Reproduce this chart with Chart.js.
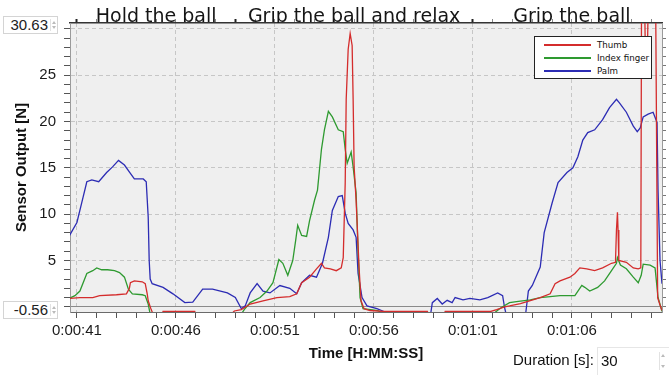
<!DOCTYPE html>
<html><head><meta charset="utf-8">
<script src="https://cdn.jsdelivr.net/npm/chart.js@4.4.1/dist/chart.umd.min.js"></script>
<style>
html,body{margin:0;padding:0;background:#fff;}
#wrap{position:relative;width:669px;height:375px;overflow:hidden;background:#fff;}
canvas{position:absolute;left:0;top:0;}
.box{position:absolute;height:16px;width:53px;border:1px solid #d4d4d4;background:#fff;font:15px "Liberation Sans",Arial,sans-serif;color:#222;line-height:16px;text-align:right;box-sizing:content-box;}
.box span.t{position:absolute;right:9px;top:0;}
.sp{position:absolute;right:1px;top:2px;width:5px;height:12px;border-left:1px solid #e2e2e2;}
.sp:before,.sp:after{content:"";position:absolute;left:1px;width:0;height:0;border-left:2px solid transparent;border-right:2px solid transparent;}
.sp:before{top:2px;border-bottom:3px solid #bbb;}
.sp:after{bottom:2px;border-top:3px solid #bbb;}
#legend{position:absolute;left:534px;top:36px;width:116px;height:41px;border:1px solid #222;background:#fff;font:8.7px "DejaVu Sans",sans-serif;color:#111;}
#legend .row{position:absolute;left:0;height:12px;width:116px;}
#legend .ln{position:absolute;left:9px;top:5px;width:47px;height:2px;}
#legend .lb{position:absolute;left:62px;top:0;line-height:12px;white-space:nowrap;}
#dur{position:absolute;left:513px;top:351px;font:15px "Liberation Sans",Arial,sans-serif;color:#111;}
#durbox{position:absolute;left:597px;top:347px;width:71px;height:27px;border:1px solid #e6e6e6;border-right:none;background:#fff;font:15px "Liberation Sans",Arial,sans-serif;color:#111;}
#durbox span{position:absolute;left:3px;top:4px;}
#durbox .sp{top:4px;height:18px;right:4px;}
</style></head><body>
<div id="wrap">
<canvas id="c" width="669" height="375"></canvas>
<div class="box" style="left:3px;top:16px;"><span class="t">30.63</span><span class="sp"></span></div>
<div class="box" style="left:3px;top:301px;"><span class="t">-0.56</span><span class="sp"></span></div>
<div id="legend"></div>
<div id="dur">Duration [s]:</div>
<div id="durbox"><span>30</span><i class="sp"></i></div>
</div>
<script>
// ---- data (time in seconds, force in N) ----
const seriesNames = ["Thumb", "Index finger", "Palm"];
const seriesColors = ["#d42c2c", "#2e9a30", "#2c2cb4"];

const thumbTimes = [40.6,41.15,41.8,42.15,43.0,43.5,43.65,43.7,43.9,44.3,44.45,44.55,44.6,44.75,44.85,45.3,45.35,46.95,47.0,48.8,48.95,49.3,49.75,50.4,51.1,51.75,52.1,52.35,52.75,53.1,53.35,53.5,53.8,54.1,54.35,54.45,54.55,54.6,54.7,54.8,54.9,54.95,55.0,55.1,55.25,55.35,55.5,55.8,56.5,58.7,58.75,59.55,59.6,61.9,62.2,62.6,62.85,63.4,64.4,64.9,65.15,65.4,65.9,66.15,66.4,66.75,67.15,67.55,68.0,68.2,68.25,68.3,68.33,68.37,68.75,69.1,69.35,69.48,69.52,69.65,69.72,69.8,69.88,70.15,70.22,70.33,70.45,70.55];
const thumbValues = [0.9,1.0,1.0,1.2,1.3,1.4,2.0,2.6,2.8,2.7,2.5,1.4,0.65,-0.3,-0.8,-0.8,-0.5,-0.5,-0.8,-0.8,-0.45,-0.3,0.3,0.65,1.0,1.1,1.4,2.6,3.2,4.1,4.7,4.2,4.1,3.9,4.2,5.3,13.4,22.4,27.8,29.5,28.2,22.4,15.1,11.5,4.2,0.65,-0.2,-0.4,-0.5,-0.5,-0.8,-0.8,-0.5,-0.5,-0.3,0.0,0.1,0.35,1.0,1.4,2.5,2.8,3.2,3.6,4.2,4.1,3.9,4.2,4.7,4.8,8.3,10.2,8.3,5.0,4.8,4.2,4.1,4.2,36,36,26,26,36,36,36,1.0,0.2,-0.4];

const indexTimes = [40.6,40.9,41.15,41.5,41.8,42.0,42.25,42.55,42.9,43.15,43.4,43.6,43.8,44.3,44.45,44.6,44.7,49.3,49.45,49.75,50.25,50.6,50.9,51.2,51.4,51.65,51.9,52.05,52.15,52.35,52.6,52.75,53.0,53.15,53.35,53.5,53.7,53.9,54.2,54.45,54.55,54.65,54.85,54.95,55.1,55.2,55.3,55.45,56.2,56.5,62.0,62.3,62.5,62.85,63.2,63.9,64.4,65.4,66.15,66.5,66.65,66.9,67.3,67.65,68.0,68.25,68.3,68.45,68.75,69.1,69.35,69.5,69.6,69.95,70.2,70.35,70.55];
const indexValues = [0.9,1.2,1.7,3.6,3.9,4.2,4.0,4.0,3.9,3.7,3.2,1.9,1.4,1.3,1.2,0.3,-0.8,-0.8,-0.3,0.45,1.0,1.7,2.6,5.1,4.7,3.4,5.0,7.2,8.8,7.7,7.6,9.3,11.5,12.6,17.0,19.1,21.1,20.5,19.1,18.9,17.0,15.5,16.7,15.1,12.3,6.1,1.0,-0.2,-0.4,-0.8,-0.8,-0.3,0.0,0.45,0.55,0.75,1.0,1.2,1.2,2.3,2.1,1.7,2.1,2.8,3.9,4.7,5.3,4.5,4.1,3.2,2.6,3.4,4.6,4.5,4.2,1.0,-0.5];

const palmTimes = [40.6,41.0,41.25,41.5,41.75,42.1,42.5,42.8,43.1,43.4,43.7,43.9,44.35,44.5,44.6,44.65,44.7,44.8,45.35,45.85,46.45,46.85,47.35,47.85,48.6,49.0,49.3,49.5,49.75,50.1,50.4,50.75,51.25,51.75,52.1,52.35,52.75,53.1,53.4,53.7,53.9,54.2,54.4,54.55,54.7,54.95,55.1,55.2,55.4,55.65,56.15,56.5,56.7,58.85,58.95,59.2,59.45,59.7,59.95,60.1,60.5,60.85,61.35,61.75,62.25,62.5,62.6,62.7,63.65,63.8,64.0,64.4,64.6,65.0,65.3,65.75,66.05,66.3,66.55,66.8,67.15,67.55,67.9,68.25,68.4,68.75,69.1,69.3,69.45,69.6,69.85,70.1,70.3,70.35,70.45,70.55];
const palmValues = [7.6,9.1,11.3,13.5,13.7,13.5,14.5,15.1,15.8,15.3,14.4,13.8,13.8,13.5,9.7,5.0,3.0,2.5,2.1,1.4,0.45,0.5,1.9,1.9,1.5,1.0,-0.2,0.1,1.5,2.5,1.7,1.5,2.3,2.0,1.4,2.6,3.4,3.2,4.7,7.5,10.4,11.9,12.0,10.1,9.0,8.3,7.5,3.6,1.0,0.1,-0.2,-0.5,-1.0,-1.0,0.45,0.9,0.3,0.7,0.45,1.0,0.75,0.9,0.75,1.0,1.5,1.2,-0.1,-1.0,-1.0,1.7,2.3,4.3,8.0,11.2,13.4,14.5,15.0,16.2,18.0,18.8,19.1,20.2,21.5,22.4,22.0,21.0,19.5,18.9,19.3,20.5,20.8,21.0,19.9,12.6,5.0,2.5];

// ---- axes ----
const xMin = 40.65, xMax = 70.55;
const yMin = -0.56, yMax = 30.63;
const xMajorTicks = [41, 46, 51, 56, 61, 66];
const xTickLabels = ["0:00:41", "0:00:46", "0:00:51", "0:00:56", "0:01:01", "0:01:06"];
const xEndTick = 70;
const xEndLabel = "0:01:10";
const yLabelValues = [5, 10, 15, 20, 25];
const yTickLabels = ["5", "10", "15", "20", "25"];
const sectionCenters = [45, 55, 66];
const sectionLabels = ["Hold the ball", "Grip the ball and relax", "Grip the ball"];
const sectionBounds = [41, 49, 61];

function pts(ts, vs) { return ts.map((t, i) => ({x: t, y: vs[i]})); }
function intRange(a, b) { const r = []; for (let v = a; v <= b; v++) r.push({value: v}); return r; }

// legend (HTML)
const lg = document.getElementById('legend');
seriesNames.forEach((n, i) => {
  const row = document.createElement('div');
  row.className = 'row'; row.style.top = (2 + i * 13) + 'px';
  row.innerHTML = '<div class="ln" style="background:' + seriesColors[i] + '"></div><div class="lb">' + n + '</div>';
  lg.appendChild(row);
});

const bgPlugin = {
  id: 'plotBg',
  beforeDraw(chart) {
    const {ctx, chartArea: a} = chart;
    ctx.save(); ctx.fillStyle = '#efefef';
    ctx.fillRect(a.left, a.top, a.right - a.left, a.bottom - a.top);
    ctx.restore();
  }
};

const tickFont = {family: '"Liberation Sans", Arial, sans-serif', size: 15};
const dashFn = c => (c.tick && c.tick.value === 0) ? [] : [4, 3];

new Chart(document.getElementById('c'), {
  type: 'line',
  data: {
    datasets: [
      {label: seriesNames[0], data: pts(thumbTimes, thumbValues), borderColor: seriesColors[0]},
      {label: seriesNames[1], data: pts(indexTimes, indexValues), borderColor: seriesColors[1]},
      {label: seriesNames[2], data: pts(palmTimes, palmValues), borderColor: seriesColors[2]}
    ]
  },
  options: {
    responsive: false, animation: false, devicePixelRatio: 1, events: [],
    layout: {padding: 0},
    elements: {point: {radius: 0}, line: {borderWidth: 1.3, tension: 0, fill: false}},
    plugins: {legend: {display: false}, tooltip: {enabled: false}},
    scales: {
      x: {
        type: 'linear', position: 'bottom', min: xMin, max: xMax, weight: 0,
        afterBuildTicks: s => { s.ticks = intRange(41, 70); },
        afterFit: s => { s.height = 63; },
        ticks: {autoSkip: false, maxRotation: 0, padding: 4, color: '#1a1a1a', font: tickFont,
          callback: v => { const i = xMajorTicks.indexOf(v); return i >= 0 ? xTickLabels[i] : ''; }},
        grid: {color: c => (c.tick && xMajorTicks.includes(c.tick.value)) ? '#c6c6c6' : 'rgba(0,0,0,0)',
          tickColor: '#555', tickLength: 6, lineWidth: 1},
        border: {display: true, color: '#6a6a6a', width: 1, dash: [4, 3]},
        title: {display: true, text: 'Time [H:MM:SS]', color: '#111',
          font: {family: '"Liberation Sans", Arial, sans-serif', size: 15, weight: 'bold'},
          padding: {top: 0, bottom: 12}}
      },
      xEnd: {
        type: 'linear', position: 'bottom', min: xMin, max: xMax, weight: -1,
        afterBuildTicks: s => { s.ticks = [{value: xEndTick}]; },
        afterFit: s => { s.height = 0; },
        ticks: {autoSkip: false, maxRotation: 0, padding: 10, color: '#1a1a1a', font: tickFont,
          align: 'end', labelOffset: 17, callback: () => xEndLabel},
        grid: {display: false, drawTicks: false},
        border: {display: false}
      },
      x2: {
        type: 'linear', position: 'top', min: xMin, max: xMax,
        afterBuildTicks: s => { s.ticks = intRange(41, 70); },
        afterFit: s => { s.height = 23; },
        ticks: {autoSkip: false, maxRotation: 0, padding: -8, color: '#151515',
          font: {family: '"DejaVu Sans", sans-serif', size: 19, lineHeight: 1},
          callback: v => { const i = sectionCenters.indexOf(v); return i >= 0 ? sectionLabels[i] : ''; }},
        grid: {drawOnChartArea: false, tickLength: 4,
          tickColor: c => (c.tick && sectionBounds.includes(c.tick.value)) ? '#222' : '#888',
          tickWidth: c => (c.tick && sectionBounds.includes(c.tick.value)) ? 2 : 1},
        border: {display: true, color: '#333', width: 1.5}
      },
      y: {
        type: 'linear', position: 'left', min: yMin, max: yMax,
        afterBuildTicks: s => { s.ticks = intRange(0, 30); },
        afterFit: s => { s.width = 70; },
        ticks: {autoSkip: false, padding: 8, color: '#1a1a1a', font: tickFont,
          callback: v => { const i = yLabelValues.indexOf(v); return i >= 0 ? yTickLabels[i] : ''; }},
        grid: {color: c => !c.tick ? 'rgba(0,0,0,0)' : (c.tick.value === 0 ? '#8a8a8a' : (c.tick.value % 5 === 0 ? '#c6c6c6' : 'rgba(0,0,0,0)')),
          tickColor: '#555', tickLength: 6},
        border: {display: true, color: '#9a9a9a', width: 1, dash: dashFn},
        title: {display: true, text: 'Sensor Output [N]', color: '#111',
          font: {family: '"Liberation Sans", Arial, sans-serif', size: 15, weight: 'bold'},
          padding: {top: 13, bottom: 0}}
      },
      y2: {
        type: 'linear', position: 'right', min: yMin, max: yMax,
        afterBuildTicks: s => { s.ticks = intRange(0, 30); },
        afterFit: s => { s.width = 7; },
        ticks: {display: false},
        grid: {drawOnChartArea: false, tickColor: '#777', tickLength: 4},
        border: {display: true, color: '#9a9a9a', width: 1}
      }
    }
  },
  plugins: [bgPlugin]
});
</script>
</body></html>
